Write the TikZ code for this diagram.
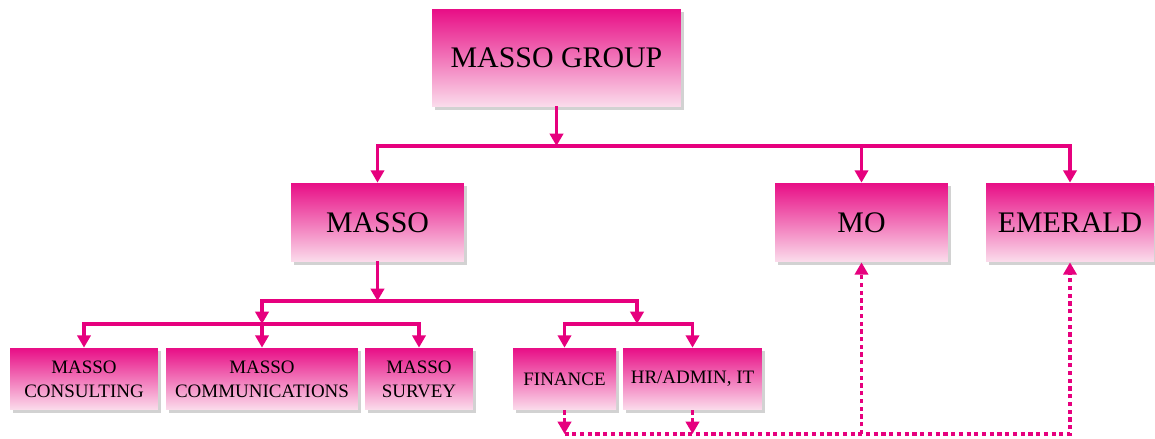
\documentclass[tikz,border=0pt]{standalone}
\usepackage{fontspec}
\setmainfont{Liberation Serif}
\usepackage{xcolor}
\usetikzlibrary{positioning, arrows.meta, shadows}

\definecolor{linkpink}{RGB}{230,0,126}
\definecolor{boxtop}{RGB}{232,14,134}
\definecolor{boxbot}{RGB}{251,221,236}

\tikzset{
    orgbox/.style={rectangle, top color=boxtop, bottom color=boxbot, inner sep=0pt,
        drop shadow={shadow xshift=1.6pt, shadow yshift=-1.6pt, fill=black!35},
        font=\fontsize{17}{19}\selectfont, align=center},
    subbox/.style={orgbox, font=\fontsize{10.8}{13.5}\selectfont},
    link/.style={linkpink, line width=2pt, line cap=rect, -{Triangle[width=7.5pt,length=7pt]}},
    busline/.style={linkpink, line width=2pt, line cap=rect},
    dotlink/.style={link, line cap=butt, dash pattern=on 2.4pt off 2pt}
}

\begin{document}
\begin{tikzpicture}[x=0.02cm, y=-0.02cm]
        \useasboundingbox (0,0) rectangle (1155,439);

        % Top level
        \node[orgbox, minimum width=4.98cm, minimum height=1.96cm] (group) at (556.5,58) {MASSO GROUP};

        \node[orgbox, minimum width=3.46cm, minimum height=1.58cm] (masso) at (377.5,222.5) {MASSO};
        \node[orgbox, minimum width=3.46cm, minimum height=1.58cm] (mo) at (861.5,222.5) {MO};
        \node[orgbox, minimum width=3.36cm, minimum height=1.58cm] (emerald) at (1070,222.5) {EMERALD};

        % Bottom level
        \node[subbox, minimum width=2.96cm, minimum height=1.24cm] (consulting) at (84,379) {MASSO\\CONSULTING};
        \node[subbox, minimum width=3.84cm, minimum height=1.24cm] (comms) at (262,379) {MASSO\\COMMUNICATIONS};
        \node[subbox, minimum width=2.16cm, minimum height=1.24cm] (survey) at (419,379) {MASSO\\SURVEY};
        \node[subbox, minimum width=2.06cm, minimum height=1.24cm] (finance) at (564.5,379) {FINANCE};
        \node[subbox, minimum width=2.78cm, minimum height=1.24cm] (hradmin) at (692.5,379) {HR/ADMIN, IT};

        % Bus coordinates
        \coordinate (busA) at (556.5,146);
        \coordinate (busB) at (377.5,301);
        \coordinate (splitL) at (262,301);
        \coordinate (splitR) at (637,301);
        \coordinate (busL) at (262,324);
        \coordinate (busR) at (637,324);
        \coordinate (busD) at (564.5,434);

        % Group to companies
        \draw[link] (group.south) -- (busA);
        \draw[busline] (masso.north |- busA) -- (emerald.north |- busA);
        \foreach \n in {masso, mo, emerald}
            \draw[link] (\n.north |- busA) -- (\n.north);

        % MASSO to units
        \draw[link] (masso.south) -- (busB);
        \draw[busline] (splitL) -- (splitR);
        \draw[link] (splitL) -- (busL);
        \draw[link] (splitR) -- (busR);
        \draw[busline] (consulting.north |- busL) -- (survey.north |- busL);
        \draw[busline] (finance.north |- busR) -- (hradmin.north |- busR);
        \foreach \n in {consulting, comms, survey}
            \draw[link] (\n.north |- busL) -- (\n.north);
        \foreach \n in {finance, hradmin}
            \draw[link] (\n.north |- busR) -- (\n.north);

        % Shared services (dotted)
        \foreach \n in {finance, hradmin}
            \draw[dotlink] (\n.south) -- (\n.south |- busD);
        \draw[dotlink] (busD) -- (emerald.south |- busD) -- (emerald.south);
        \draw[dotlink] (mo.south |- busD) -- (mo.south);
    \end{tikzpicture}
\end{document}
